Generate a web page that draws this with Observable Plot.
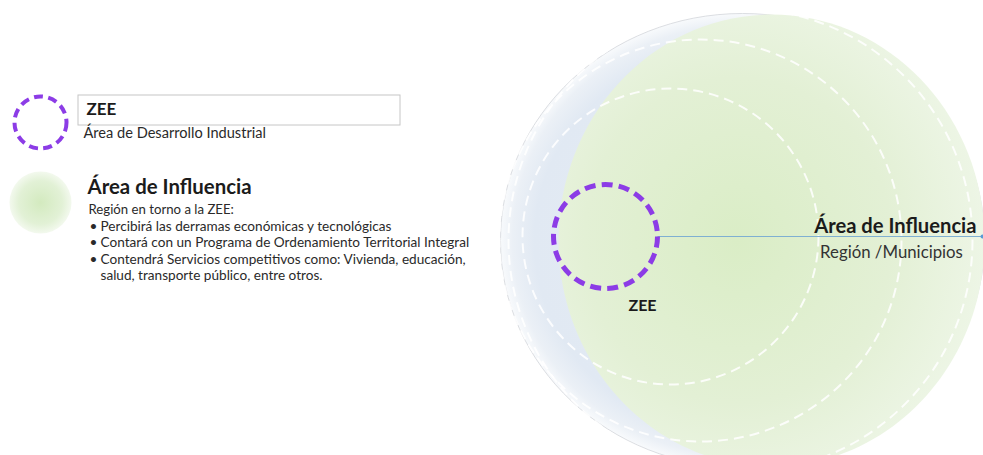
<!DOCTYPE html>
<html>
<head>
<meta charset="utf-8">
<script src="https://cdn.jsdelivr.net/npm/d3@7"></script>
<script src="https://cdn.jsdelivr.net/npm/@observablehq/plot@0.6"></script>
<style>
  html, body { margin: 0; padding: 0; background: #ffffff; }
  #chart { width: 983px; height: 455px; }
</style>
</head>
<body>
<div id="chart"></div>
<script>
// ---- content (text / categories) ----
const legendTitles = ["ZEE", "Área de Influencia"];
const legendSubtitles = ["Área de Desarrollo Industrial", "Región en torno a la ZEE:"];
const influenceBullets = [
  "Percibirá las derramas económicas y tecnológicas",
  "Contará con un Programa de Ordenamiento Territorial Integral",
  "Contendrá Servicios competitivos como: Vivienda, educación,"
];
const influenceContinuation = ["salud, transporte público, entre otros."];
const diagramZeeLabel = ["ZEE"];
const diagramAreaLabel = ["Área de Influencia"];
const diagramAreaSub = ["Región /Municipios"];
const influenceRings = ["anillo 1", "anillo 2", "anillo 3"];

// ---- layout (pixel positions of the diagram) ----
const L = {
  zee: {cx: 605, cy: 236, r: 52},
  outer: {cx: 742, cy: 240, rx: 242, ry: 227},
  green: {cx: 771, cy: 240, rx: 213, ry: 226},
  rings: [{cx: 670, cy: 236, r: 148}, {cx: 700, cy: 240, r: 201}, {cx: 740, cy: 240, r: 232}],
  legendZee: {cx: 40, cy: 122, r: 26},
  legendGreen: {cx: 40, cy: 202, r: 31},
  box: {x1: 78, x2: 400, y1: 95, y2: 125},
  lineEnd: 982,
  bulletY0: 230,
  bulletStep: 16.5
};

function ellipseSymbol(aspect) {
  return {
    draw(ctx, size) {
      const rx = Math.sqrt(size / Math.PI), ry = rx * aspect, k = 0.5522847498;
      ctx.moveTo(rx, 0);
      ctx.bezierCurveTo(rx, ry * k, rx * k, ry, 0, ry);
      ctx.bezierCurveTo(-rx * k, ry, -rx, ry * k, -rx, 0);
      ctx.bezierCurveTo(-rx, -ry * k, -rx * k, -ry, 0, -ry);
      ctx.bezierCurveTo(rx * k, -ry, rx, -ry * k, rx, 0);
      ctx.closePath();
    }
  };
}

const font = "Lato, 'Open Sans', sans-serif";
const purple = "#8c3ce6";
const ink = "#1b1b1b";
const body = "#2a2a2a";

const svg = Plot.plot({
  width: 983,
  height: 455,
  margin: 0,
  axis: null,
  x: {type: "identity"},
  y: {type: "identity"},
  r: {type: "identity"},
  style: {fontFamily: font, background: "#ffffff"},
  marks: [
    // outer bluish disc
    Plot.dot([L.outer], {x: "cx", y: "cy", r: "rx", symbol: ellipseSymbol(L.outer.ry / L.outer.rx),
      fill: "url(#blueGrad)", stroke: "#d3d6da", strokeWidth: 0.8}),
    // green influence disc
    Plot.dot([L.green], {x: "cx", y: "cy", r: "rx", symbol: ellipseSymbol(L.green.ry / L.green.rx),
      fill: "url(#greenGrad)"}),
    // concentric dashed rings
    Plot.dot(influenceRings, {x: (d, i) => L.rings[i].cx, y: (d, i) => L.rings[i].cy, r: (d, i) => L.rings[i].r,
      stroke: "#ffffff", strokeWidth: 2, strokeOpacity: 0.85, strokeDasharray: "10,6", fill: "none"}),
    // connector line
    Plot.link([L.zee], {x1: d => d.cx + d.r, y1: "cy", x2: L.lineEnd, y2: "cy", stroke: "#7fb0d2", strokeWidth: 1.2}),
    Plot.dot([L.zee], {x: L.lineEnd, y: "cy", r: 2, fill: "#5b9bd5"}),
    // ZEE dashed circle
    Plot.dot([L.zee], {x: "cx", y: "cy", r: "r", stroke: purple, strokeWidth: 5, strokeDasharray: "11,6.2", fill: "none"}),
    Plot.text(diagramZeeLabel, {x: 642, y: 310, text: d => d, fontSize: 16, fontWeight: "bold", fill: ink, lineAnchor: "bottom"}),
    Plot.text(diagramAreaLabel, {x: 976, y: 232, text: d => d, fontSize: 20.2, fontWeight: "bold", fill: ink, textAnchor: "end", lineAnchor: "bottom"}),
    Plot.text(diagramAreaSub, {x: 891, y: 257, text: d => d, fontSize: 16.8, fill: "#333333", lineAnchor: "bottom"}),

    // ---- legend ----
    Plot.dot([L.legendZee], {x: "cx", y: "cy", r: "r", stroke: purple, strokeWidth: 4, strokeDasharray: "9,5.4", fill: "none"}),
    Plot.rect([L.box], {x1: "x1", x2: "x2", y1: "y1", y2: "y2", fill: "#ffffff", stroke: "#c6c6c6", strokeWidth: 1}),
    Plot.text([legendTitles[0]], {x: 86, y: 114, text: d => d, fontSize: 17, fontWeight: "bold", fill: ink, textAnchor: "start", lineAnchor: "bottom"}),
    Plot.text([legendSubtitles[0]], {x: 83, y: 137, text: d => d, fontSize: 14.6, fill: body, textAnchor: "start", lineAnchor: "bottom"}),

    Plot.dot([L.legendGreen], {x: "cx", y: "cy", r: "r", fill: "url(#legendGrad)"}),
    Plot.text([legendTitles[1]], {x: 87, y: 193, text: d => d, fontSize: 20.4, fontWeight: "bold", fill: ink, textAnchor: "start", lineAnchor: "bottom"}),
    Plot.text([legendSubtitles[1]], {x: 88, y: 213, text: d => d, fontSize: 13.2, fill: body, textAnchor: "start", lineAnchor: "bottom"}),
    Plot.text(influenceBullets, {x: 89, y: (d, i) => L.bulletY0 + i * L.bulletStep, text: () => "•", fontSize: 13.6, fill: body, textAnchor: "start", lineAnchor: "bottom"}),
    Plot.text(influenceBullets, {x: 100, y: (d, i) => L.bulletY0 + i * L.bulletStep, text: d => d, fontSize: 13.6, fill: body, textAnchor: "start", lineAnchor: "bottom"}),
    Plot.text(influenceContinuation, {x: 100, y: L.bulletY0 + 3 * L.bulletStep, text: d => d, fontSize: 13.6, fill: body, textAnchor: "start", lineAnchor: "bottom"})
  ]
});

d3.select(svg).insert("defs", ":first-child").html(`
  <radialGradient id="blueGrad" cx="0.5" cy="0.5" r="0.5">
    <stop offset="0" stop-color="#e8eef5"/>
    <stop offset="0.86" stop-color="#e1e9f3"/>
    <stop offset="0.95" stop-color="#ebf0f6"/>
    <stop offset="1" stop-color="#f8fafc"/>
  </radialGradient>
  <radialGradient id="greenGrad" cx="0.42" cy="0.5" r="0.6">
    <stop offset="0" stop-color="#daedc6"/>
    <stop offset="0.6" stop-color="#e3f0d5"/>
    <stop offset="1" stop-color="#eef6e7"/>
  </radialGradient>
  <radialGradient id="legendGrad" cx="0.5" cy="0.5" r="0.5">
    <stop offset="0" stop-color="#d3eabf"/>
    <stop offset="0.7" stop-color="#e2f1d6"/>
    <stop offset="1" stop-color="#f3f9ee"/>
  </radialGradient>
`);

document.getElementById("chart").appendChild(svg);
</script>
</body>
</html>
